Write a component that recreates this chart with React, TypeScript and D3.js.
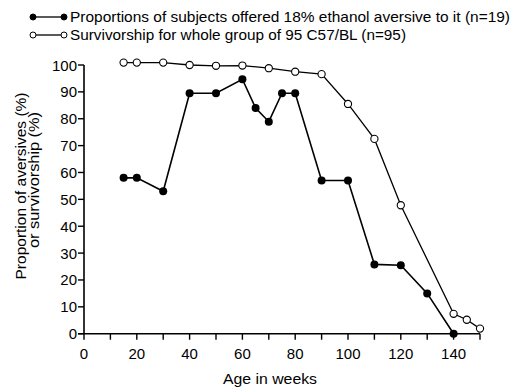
import { useEffect, useRef } from 'react';
import * as d3 from 'd3';

// aversive proportions (filled markers), n=19
const aversiveWeeks = [15, 20, 30, 40, 50, 60, 65, 70, 75, 80, 90, 100, 110, 120, 130, 140];
const aversiveValues = [58, 58, 53, 89.5, 89.5, 94.7, 84, 78.9, 89.5, 89.5, 57, 57, 25.8, 25.5, 15, 0];

// survivorship (open markers), n=95
const survivalWeeks = [15, 20, 30, 40, 50, 60, 70, 80, 90, 100, 110, 120, 140, 145, 150];
const survivalValues = [100.9, 100.9, 100.9, 100, 99.7, 99.8, 98.8, 97.5, 96.6, 85.5, 72.5, 47.8, 7.4, 5.2, 1.9];

const xTicks = d3.range(0, 151, 10);
const xLabels = [0, 20, 40, 60, 80, 100, 120, 140];
const yTicks = d3.range(0, 101, 10);

const legendAversive = 'Proportions of subjects offered 18% ethanol aversive to it (n=19)';
const legendSurvival = 'Survivorship for whole group of 95 C57/BL (n=95)';

export default function App() {
  const svgRef = useRef<SVGSVGElement>(null);

  useEffect(() => {
    if (!svgRef.current) return;
    const svg = d3.select(svgRef.current);
    svg.selectAll('*').remove();

    const font = '"Liberation Sans", Arial, sans-serif';
    const x = d3.scaleLinear().domain([0, 150]).range([84, 480]);
    const y = d3.scaleLinear().domain([0, 100]).range([333.7, 65]);

    // axes
    svg.append('line')
      .attr('x1', x(0)).attr('x2', x(0))
      .attr('y1', y(0)).attr('y2', y(100))
      .attr('stroke', '#000').attr('stroke-width', 1.6);
    svg.append('line')
      .attr('x1', x(0) - 6).attr('x2', x(150))
      .attr('y1', y(0)).attr('y2', y(0))
      .attr('stroke', '#000').attr('stroke-width', 1.6);

    svg.selectAll('.ytick')
      .data(yTicks)
      .enter()
      .append('line')
      .attr('x1', x(0) - 6).attr('x2', x(0))
      .attr('y1', d => y(d)).attr('y2', d => y(d))
      .attr('stroke', '#000').attr('stroke-width', 1.4);

    svg.selectAll('.ylab')
      .data(yTicks)
      .enter()
      .append('text')
      .attr('x', x(0) - 7)
      .attr('y', d => y(d) + 5.5)
      .attr('text-anchor', 'end')
      .attr('font-family', font)
      .attr('font-size', 15)
      .text(d => d);

    svg.selectAll('.xtick')
      .data(xTicks)
      .enter()
      .append('line')
      .attr('x1', d => x(d)).attr('x2', d => x(d))
      .attr('y1', y(0)).attr('y2', y(0) + 6)
      .attr('stroke', '#000').attr('stroke-width', 1.4);

    svg.selectAll('.xlab')
      .data(xLabels)
      .enter()
      .append('text')
      .attr('x', d => x(d))
      .attr('y', 359)
      .attr('text-anchor', 'middle')
      .attr('font-family', font)
      .attr('font-size', 15)
      .text(d => d);

    svg.append('text')
      .attr('x', 270).attr('y', 384)
      .attr('text-anchor', 'middle')
      .attr('font-family', font)
      .attr('font-size', 14)
      .attr('textLength', 94)
      .attr('lengthAdjust', 'spacingAndGlyphs')
      .text('Age in weeks');

    svg.append('text')
      .attr('transform', 'translate(25.5,186) rotate(-90)')
      .attr('text-anchor', 'middle')
      .attr('font-family', font)
      .attr('font-size', 14)
      .attr('textLength', 187)
      .attr('lengthAdjust', 'spacingAndGlyphs')
      .text('Proportion of aversives (%)');
    svg.append('text')
      .attr('transform', 'translate(39,180) rotate(-90)')
      .attr('text-anchor', 'middle')
      .attr('font-family', font)
      .attr('font-size', 14)
      .attr('textLength', 136)
      .attr('lengthAdjust', 'spacingAndGlyphs')
      .text('or survivorship (%)');

    const line = d3.line<[number, number]>()
      .x(d => x(d[0]))
      .y(d => y(d[1]));

    const survival = survivalWeeks.map((w, i) => [w, survivalValues[i]] as [number, number]);
    const aversive = aversiveWeeks.map((w, i) => [w, aversiveValues[i]] as [number, number]);

    svg.append('path')
      .datum(survival)
      .attr('fill', 'none')
      .attr('stroke', '#000')
      .attr('stroke-width', 1.3)
      .attr('d', line);

    svg.append('path')
      .datum(aversive)
      .attr('fill', 'none')
      .attr('stroke', '#000')
      .attr('stroke-width', 1.6)
      .attr('d', line);

    svg.selectAll('.open')
      .data(survival)
      .enter()
      .append('circle')
      .attr('cx', d => x(d[0]))
      .attr('cy', d => y(d[1]))
      .attr('r', 3.6)
      .attr('fill', '#fff')
      .attr('stroke', '#000')
      .attr('stroke-width', 1.1);

    svg.selectAll('.filled')
      .data(aversive)
      .enter()
      .append('circle')
      .attr('cx', d => x(d[0]))
      .attr('cy', d => y(d[1]))
      .attr('r', 4)
      .attr('fill', '#000');

    // legend
    const legendRows = [
      { label: legendAversive, filled: true, y: 17, len: 440 },
      { label: legendSurvival, filled: false, y: 35, len: 336 },
    ];
    legendRows.forEach(row => {
      svg.append('line')
        .attr('x1', 33).attr('x2', 64)
        .attr('y1', row.y).attr('y2', row.y)
        .attr('stroke', '#000').attr('stroke-width', 1.3);
      [33, 64].forEach(cx => {
        svg.append('circle')
          .attr('cx', cx).attr('cy', row.y)
          .attr('r', 3)
          .attr('fill', row.filled ? '#000' : '#fff')
          .attr('stroke', '#000').attr('stroke-width', 1);
      });
      svg.append('text')
        .attr('x', 70).attr('y', row.y + 5)
        .attr('font-family', font)
        .attr('font-size', 14.5)
        .attr('textLength', row.len)
        .attr('lengthAdjust', 'spacingAndGlyphs')
        .text(row.label);
    });
  }, []);

  return (
    <svg
      ref={svgRef}
      width={516}
      height={387}
      style={{ position: 'absolute', left: 0, top: 0, background: '#fff' }}
    />
  );
}
